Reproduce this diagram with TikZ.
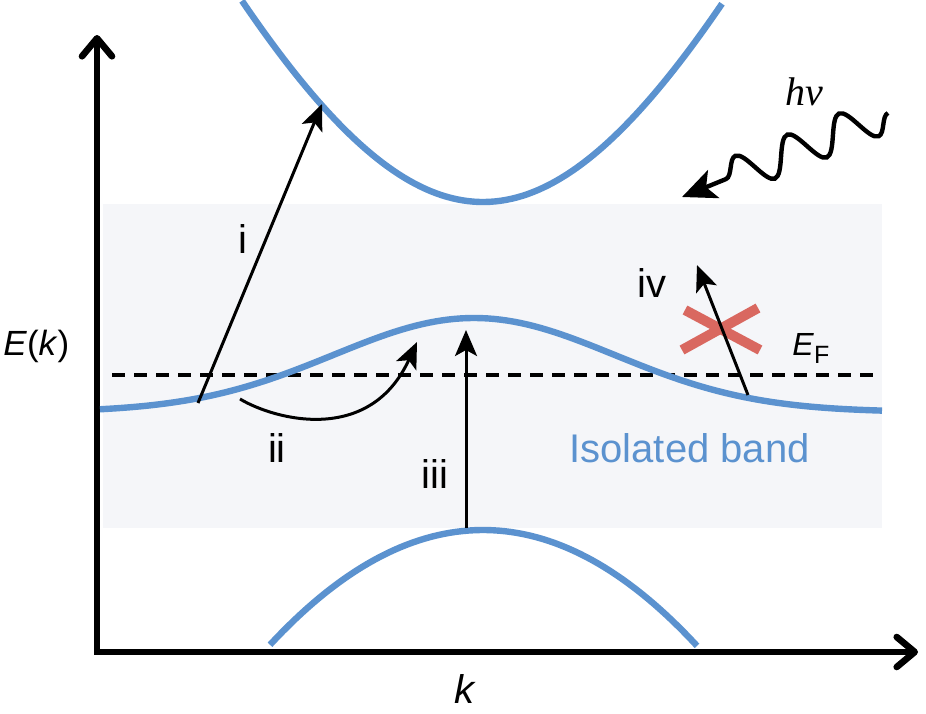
\documentclass[tikz,border=0pt]{standalone}
\usepackage{fontspec}
\setmainfont{Liberation Sans}
\newfontfamily\timesfont{Liberation Serif}
\usetikzlibrary{arrows.meta,decorations.pathmorphing}
\definecolor{bandblue}{RGB}{91,146,207}
\definecolor{crossred}{RGB}{217,104,96}
\definecolor{gapgrey}{RGB}{245,246,249}

\begin{document}
\begin{tikzpicture}[x=0.5pt,y=-0.5pt,
  band/.style={draw=bandblue,line width=3.2pt},
  axis/.style={line width=3.3pt,line join=miter,
    {Straight Barb[length=9pt,width=15pt,round]}-{Straight Barb[length=9pt,width=15pt,round]}},
  trans/.style={line width=1.5pt,-{Stealth[length=13pt,width=11pt,inset=3pt]}},
  photon/.style={line width=2.2pt,decorate,
    decoration={snake,amplitude=9pt,segment length=28pt,post length=14pt},
    -{Stealth[length=17pt,width=15pt,inset=4pt]}},
  cross/.style={draw=crossred,line width=5pt},
  lbl/.style={anchor=base,inner sep=0pt,font=\fontsize{20}{24}\selectfont}]
\useasboundingbox (0,0) rectangle (926,713);

% shaded energy window
\fill[gapgrey] (103,204) rectangle (882,528);

% axes
\coordinate (ytop) at (97,35);
\coordinate (origin) at (97,652);
\coordinate (xend) at (918,652);
\draw[axis] (ytop)--(origin)--(xend);

% Fermi level
\coordinate (ef0) at (112,375);
\coordinate (ef1) at (880,375);
\draw[line width=1.6pt,dash pattern=on 6.5pt off 4.5pt] (ef0)--(ef1);

% bands
\draw[band] plot[domain=242:722,samples=90] (\x,{202-100*(sqrt(42.25+5.2*((\x-483)/100)^2)-6.5)});
\draw[band] plot[domain=100:882,samples=120] (\x,{412-94*exp(-((\x-474)/199)^2)});
\draw[band] plot[domain=270:697,samples=70] (\x,{530+25.3*((\x-483)/100)^2});

% transitions
\coordinate (i0) at (198,403);
\coordinate (i1) at (322,104);
\coordinate (ii0) at (240,399);
\coordinate (ii1) at (417,342);
\coordinate (iii0) at (466,528);
\coordinate (iii1) at (466,330);
\coordinate (iv0) at (748,395);
\coordinate (iv1) at (697,265);
\draw[trans] (i0)--(i1);
\draw[trans] (ii0) .. controls (275,420) and (370,445) .. (ii1);
\draw[trans] (iii0)--(iii1);
\coordinate (x1) at (685,310);
\coordinate (x2) at (760,350);
\coordinate (x3) at (682,350);
\coordinate (x4) at (758,308);
\draw[cross] (x1)--(x2);
\draw[cross] (x3)--(x4);
\draw[trans] (iv0)--(iv1);

% photon
\coordinate (hv0) at (888,113);
\coordinate (hv1) at (682,197);
\draw[photon] (hv0)--(hv1);

% labels
\node[lbl] (li) at (243,253) {i};
\node[lbl] (lii) at (277,462) {ii};
\node[lbl] (liii) at (435,488) {iii};
\node[lbl] (liv) at (652,297) {iv};
\node[lbl,anchor=base west,text=bandblue] (liso) at (569,462) {Isolated band};
\node[anchor=base west,inner sep=0pt] (lef) at (792,355)
  {\fontsize{16}{18}\selectfont\textit{E}\fontsize{12.5}{14}\selectfont\raisebox{-4pt}{F}};
\node[anchor=base west,inner sep=0pt,font=\fontsize{17.5}{20}\selectfont] (lek) at (3,355)
  {\textit{E}(\textit{k})};
\node[lbl] (lk) at (465,703) {\textit{k}};
\node[lbl,anchor=base west,font=\fontsize{20}{24}\selectfont\timesfont\itshape] (lhv) at (785,105) {hν};
\end{tikzpicture}
\end{document}
